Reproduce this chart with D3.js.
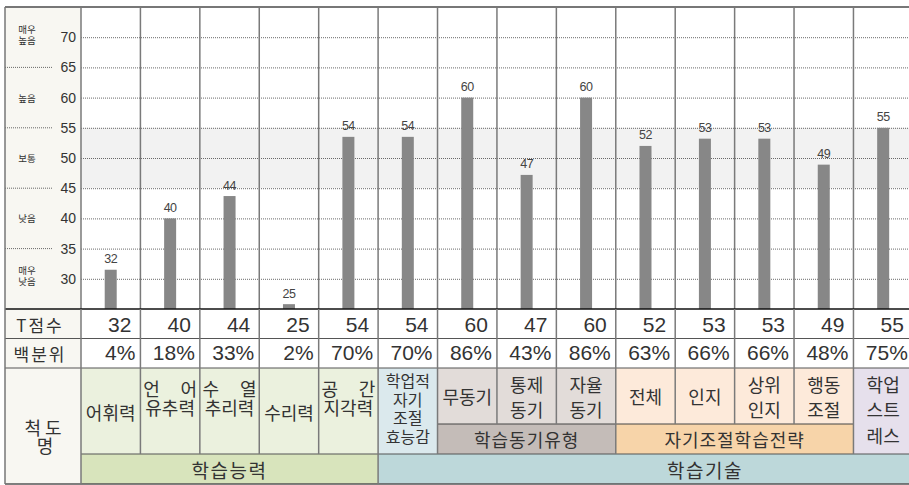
<!DOCTYPE html>
<html><head><meta charset="utf-8">
<script src="https://cdn.jsdelivr.net/npm/d3@7"></script>
<style>html,body{margin:0;padding:0;background:#fff;overflow:hidden}svg{display:block}</style>
</head><body><svg id="c" width="909" height="485"></svg>
<script>
// ---------- data ----------
const scaleNames = ["어휘력","언 어\n유추력","수 열\n추리력","수리력","공 간\n지각력","학업적\n자기\n조절\n효능감","무동기","통제\n동기","자율\n동기","전체","인지","상위\n인지","행동\n조절","학업\n스트\n레스"];
const tScores = [32,40,44,25,54,54,60,47,60,52,53,53,49,55];
const barValues = [31.5,40,43.7,25.8,53.5,53.5,60,47.2,60,52,53.2,53.2,48.9,55];
const percentiles = ["4%","18%","33%","2%","70%","70%","86%","43%","86%","63%","66%","66%","48%","75%"];
const tickValues = [30,35,40,45,50,55,60,65,70];
const levelLabels = ["매우\n높음","높음","보통","낮음","매우\n낮음"];
const levelValues = [70,60,50,40,30];
const levelBounds = [65,55,45,35];
const rowLabels = ["T점수","백분위"];
const headerLabel = "척도\n명";
const mainGroups = ["학습능력","학습기술"];
const mainGroupStart = [0,5];
const mainGroupEnd = [5,16];
const subGroups = ["학습동기유형","자기조절학습전략"];
const subGroupStart = [6,9];
const subGroupEnd = [9,13];

// ---------- layout ----------
const W = 909, H = 485;
const L = 5, PL = 81, COLW = 59.42, TOP = 7, BASE = 309;
const ROW1 = 338.5, ROW2 = 368, SUB = 424, GRP = 454, BOT = 484;
const KR = "'Noto Sans CJK KR','Noto Sans',sans-serif";
const NUM = "'Liberation Sans',Arial,sans-serif";

const svg = d3.select("#c");
const x = d3.scaleLinear().domain([0, 14]).range([PL, PL + 14 * COLW]);
const y = d3.scaleLinear().domain([25, 75]).range([BASE, TOP]);

const subOf = i => subGroupStart.findIndex((s, k) => i >= s && i < subGroupEnd[k]);
const cellColors = i => i < 5 ? "#ebf1de" : i === 5 ? "#dbe9ed" : i < 9 ? "#e2dcd9" : i < 13 ? "#fdeada" : "#e6e0ec";
const mainColors = ["#d8e4bc", "#bdd8da"];
const subColors = ["#c4bcb8", "#f7d4a9"];

// left panel background
svg.append("rect").attr("x", L).attr("y", TOP).attr("width", PL - L).attr("height", BOT - TOP).attr("fill", "#f8f7f2");
// normal band
svg.append("rect").attr("x", PL).attr("y", y(55)).attr("width", W - PL).attr("height", y(45) - y(55)).attr("fill", "#f2f2f2");

// gridlines
const grid = svg.append("g").attr("transform", `translate(${PL},0)`)
  .call(d3.axisLeft(y).tickValues(tickValues).tickSize(-(W - PL)).tickFormat(""));
grid.select(".domain").remove();
grid.selectAll("line").attr("stroke", "#444").attr("stroke-width", 0.8).attr("stroke-dasharray", "1,1");

// left short separators
svg.append("g").selectAll("line").data(levelBounds).join("line")
  .attr("x1", L).attr("x2", 52).attr("y1", d => y(d)).attr("y2", d => y(d))
  .attr("stroke", "#444").attr("stroke-width", 0.8).attr("stroke-dasharray", "1,1");

// tick labels
const ax = svg.append("g").attr("transform", "translate(76,0)")
  .call(d3.axisLeft(y).tickValues(tickValues).tickSize(0).tickPadding(0));
ax.select(".domain").remove();
ax.selectAll("text").attr("font-family", NUM).attr("font-size", 14).attr("fill", "#333");

// level labels
levelLabels.forEach((t, k) => {
  const lines = t.split("\n");
  const cy = y(levelValues[k]) - (lines.length > 1 ? 3 : 0);
  lines.forEach((ln, j) => {
    svg.append("text").attr("x", 27).attr("y", cy + (j - (lines.length - 1) / 2) * 11)
      .attr("dominant-baseline", "central").attr("text-anchor", "middle")
      .attr("font-family", KR).attr("font-size", 9.5).attr("fill", "#333").text(ln);
  });
});

// column lines (chart)
svg.append("g").selectAll("line").data(d3.range(0, 15)).join("line")
  .attr("x1", d => x(d)).attr("x2", d => x(d)).attr("y1", TOP).attr("y2", BASE)
  .attr("stroke", "#7a7a7a").attr("stroke-width", 1.5);

// bars
svg.append("g").selectAll("rect").data(barValues).join("rect")
  .attr("x", (d, i) => x(i + 0.5) - 6).attr("width", 12)
  .attr("y", d => y(d)).attr("height", d => BASE - y(d)).attr("fill", "#878787");
svg.append("g").selectAll("text").data(tScores).join("text")
  .attr("x", (d, i) => x(i + 0.5)).attr("y", (d, i) => y(barValues[i]) - 6.5)
  .attr("text-anchor", "middle").attr("font-family", NUM).attr("font-size", 12.5)
  .attr("letter-spacing", -0.5).attr("fill", "#444").text(d => d);

// top border
svg.append("line").attr("x1", L).attr("x2", W).attr("y1", TOP).attr("y2", TOP).attr("stroke", "#777").attr("stroke-width", 2);

// ---------- table ----------
scaleNames.forEach((n, i) => {
  const inSub = subOf(i) >= 0;
  svg.append("rect").attr("x", x(i)).attr("y", ROW2).attr("width", COLW).attr("height", (inSub ? SUB : GRP) - ROW2).attr("fill", cellColors(i));
});
subGroups.forEach((g, k) => {
  svg.append("rect").attr("x", x(subGroupStart[k])).attr("y", SUB).attr("width", x(subGroupEnd[k]) - x(subGroupStart[k])).attr("height", GRP - SUB).attr("fill", subColors[k]);
});
mainGroups.forEach((g, k) => {
  svg.append("rect").attr("x", x(mainGroupStart[k])).attr("y", GRP).attr("width", x(mainGroupEnd[k]) - x(mainGroupStart[k])).attr("height", BOT - GRP).attr("fill", mainColors[k]);
});

const hl = (x1, x2, yy, c, w) => svg.append("line").attr("x1", x1).attr("x2", x2).attr("y1", yy).attr("y2", yy).attr("stroke", c).attr("stroke-width", w);
const vl = (xx, y1, y2, c, w) => svg.append("line").attr("x1", xx).attr("x2", xx).attr("y1", y1).attr("y2", y2).attr("stroke", c).attr("stroke-width", w);
hl(L, W, BASE, "#111", 1.5);
hl(L, W, ROW1, "#555", 1.2);
hl(L, W, ROW2, "#555", 1.2);
subGroups.forEach((g, k) => hl(x(subGroupStart[k]), x(subGroupEnd[k]), SUB, "#444", 1.2));
hl(PL, W, GRP, "#555", 1.2);
hl(L, W, BOT, "#555", 1.5);
vl(L, TOP, BOT, "#777", 1.5);
d3.range(0, 15).forEach(i => {
  vl(x(i), BASE, ROW2, "#7a7a7a", 1.5);
  let y2;
  if (i === 0 || mainGroupStart.includes(i)) y2 = BOT;
  else if (subOf(i) >= 0 && subOf(i - 1) === subOf(i)) y2 = SUB;
  else y2 = GRP;
  vl(x(i), ROW2, y2, "#7a7a7a", 1.5);
});

rowLabels.forEach((t, k) => {
  svg.append("text").attr("x", 40).attr("y", k === 0 ? 324 : 353).attr("dominant-baseline", "central")
    .attr("text-anchor", "middle").attr("font-family", KR).attr("font-size", 17).attr("letter-spacing", 2)
    .attr("fill", "#333").text(t);
});
headerLabel.split("\n").forEach((ln, j) => {
  svg.append("text").attr("x", 45).attr("y", 427 + j * 18).attr("dominant-baseline", "central")
    .attr("text-anchor", "middle").attr("font-family", KR).attr("font-size", 18).attr("letter-spacing", j === 0 ? 4 : 0)
    .attr("fill", "#333").text(ln);
});

svg.append("g").selectAll("text").data(tScores).join("text")
  .attr("x", (d, i) => x(i + 1) - 9).attr("y", 332).attr("text-anchor", "end")
  .attr("font-family", NUM).attr("font-size", 21).attr("fill", "#333").text(d => d);
svg.append("g").selectAll("text").data(percentiles).join("text")
  .attr("x", (d, i) => x(i + 1) - 5).attr("y", 360).attr("text-anchor", "end")
  .attr("font-family", NUM).attr("font-size", 21).attr("fill", "#333").text(d => d);

scaleNames.forEach((n, i) => {
  const lines = n.split("\n");
  const inSub = subOf(i) >= 0;
  const fs = lines.length >= 4 ? 16 : 18;
  let lh, cy;
  if (inSub) { lh = 25; cy = (ROW2 + SUB) / 2; }
  else if (lines.length === 1) { lh = 0; cy = (ROW2 + GRP) / 2 + 1; }
  else if (lines.length === 2) { lh = 19; cy = 397.5; }
  else if (lines.length === 3) { lh = 25.5; cy = 409; }
  else { lh = 18.5; cy = 408; }
  lines.forEach((ln, j) => {
    const t = svg.append("text").attr("x", x(i + 0.5)).attr("y", cy + (j - (lines.length - 1) / 2) * lh)
      .attr("dominant-baseline", "central").attr("text-anchor", "middle")
      .attr("font-family", KR).attr("font-size", fs).attr("fill", "#333").text(ln);
    if (ln.includes(" ")) t.attr("textLength", 54).attr("lengthAdjust", "spacing");
  });
});

subGroups.forEach((g, k) => {
  svg.append("text").attr("x", (x(subGroupStart[k]) + x(subGroupEnd[k])) / 2).attr("y", (SUB + GRP) / 2)
    .attr("dominant-baseline", "central").attr("text-anchor", "middle")
    .attr("font-family", KR).attr("font-size", 18).attr("letter-spacing", 1).attr("fill", "#333").text(g);
});
mainGroups.forEach((g, k) => {
  svg.append("text").attr("x", (x(mainGroupStart[k]) + x(mainGroupEnd[k])) / 2).attr("y", (GRP + BOT) / 2)
    .attr("dominant-baseline", "central").attr("text-anchor", "middle")
    .attr("font-family", KR).attr("font-size", 19).attr("letter-spacing", 1.5).attr("fill", "#333").text(g);
});
</script></body></html>
